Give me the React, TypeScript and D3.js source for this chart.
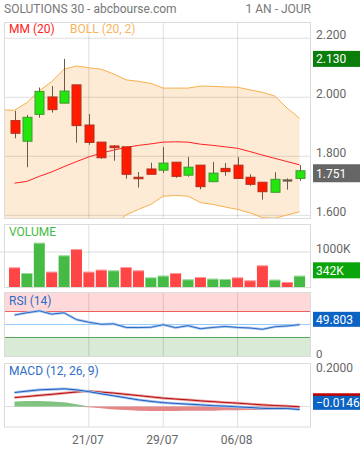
import * as d3 from "d3";

// daily sessions shown (11/07 -> 13/08)
const dates = [
  "11/07", "14/07", "15/07", "16/07", "17/07", "18/07", "21/07", "22/07",
  "23/07", "24/07", "25/07", "28/07", "29/07", "30/07", "31/07", "01/08",
  "04/08", "05/08", "06/08", "07/08", "08/08", "11/08", "12/08", "13/08",
];
const tickDates = ["21/07", "29/07", "06/08"];
const priceTicks = [1.6, 1.8, 2.0, 2.2];

const opens = [1.921, 1.851, 1.942, 2.001, 1.98, 2.042, 1.906, 1.848, 1.835, 1.832, 1.729, 1.757, 1.753, 1.78, 1.736, 1.77, 1.714, 1.759, 1.77, 1.729, 1.712, 1.678, 1.7205, 1.725];
const highs = [1.954, 1.94, 2.033, 2.038, 2.13, 2.042, 1.943, 1.848, 1.838, 1.832, 1.747, 1.778, 1.831, 1.78, 1.798, 1.77, 1.781, 1.777, 1.797, 1.739, 1.712, 1.746, 1.725, 1.77];
const lows = [1.861, 1.763, 1.931, 1.948, 1.98, 1.846, 1.839, 1.792, 1.785, 1.724, 1.694, 1.739, 1.744, 1.727, 1.731, 1.688, 1.714, 1.734, 1.725, 1.7, 1.653, 1.678, 1.687, 1.717];
const closes = [1.878, 1.932, 2.02, 1.958, 2.021, 1.904, 1.847, 1.795, 1.829, 1.739, 1.724, 1.739, 1.777, 1.732, 1.763, 1.697, 1.743, 1.748, 1.725, 1.705, 1.68, 1.722, 1.72, 1.751];
const prevClose = 1.93; // close of 10/07, colours the first volume bar

// volume in thousands
const volumes = [575, 417, 1258, 453, 908, 1083, 453, 509, 491, 583, 491, 296, 343, 417, 241, 306, 259, 250, 296, 213, 630, 231, 167, 342];

const mm20 = [1.709, 1.715, 1.732, 1.747, 1.765, 1.782, 1.798, 1.811, 1.821, 1.83, 1.837, 1.842, 1.848, 1.849, 1.848, 1.841, 1.837, 1.832, 1.827, 1.816, 1.804, 1.793, 1.782, 1.771];
// bollinger bands start one session earlier (10/07)
const bollUpper = [1.957, 1.956, 1.982, 2.022, 2.053, 2.095, 2.106, 2.1, 2.095, 2.079, 2.059, 2.054, 2.047, 2.031, 2.031, 2.031, 2.038, 2.037, 2.035, 2.034, 2.025, 2.017, 2.004, 1.963, 1.929];
const bollLower = [1.46, 1.461, 1.448, 1.441, 1.441, 1.436, 1.459, 1.495, 1.528, 1.564, 1.601, 1.62, 1.637, 1.665, 1.667, 1.665, 1.643, 1.637, 1.628, 1.62, 1.608, 1.592, 1.59, 1.601, 1.612];

const rsi = [64.6, 68, 71, 66, 68, 57.5, 53.5, 50.3, 51, 45.5, 45.3, 45.7, 49.7, 45.1, 48.2, 43.5, 45.5, 47, 45.5, 44.6, 42.6, 46.6, 47.7, 49.803];

const macd = [0.0688, 0.0757, 0.082, 0.0845, 0.087, 0.082, 0.0732, 0.0624, 0.0526, 0.0428, 0.0329, 0.0256, 0.0192, 0.0152, 0.0118, 0.0084, 0.0044, 0.002, -0.0015, -0.0044, -0.0088, -0.0098, -0.0098, -0.0146];
const signal = [0.0442, 0.0491, 0.055, 0.06, 0.0658, 0.0713, 0.0762, 0.0708, 0.0663, 0.06, 0.054, 0.0477, 0.0413, 0.0369, 0.0329, 0.028, 0.0241, 0.0201, 0.0167, 0.0123, 0.0084, 0.0049, 0.0025, -0.001];
const hist = [0.025, 0.027, 0.027, 0.025, 0.021, 0.011, -0.003, -0.008, -0.014, -0.017, -0.021, -0.022, -0.022, -0.022, -0.021, -0.02, -0.02, -0.018, -0.018, -0.017, -0.017, -0.015, -0.012, -0.014];

const FONT = "Roboto, 'Noto Sans', sans-serif";
const L = 4;
const R = 311;
const P = { top: 22, bottom: 219 };
const V = { top: 224, bottom: 288 };
const RS = { top: 292, bottom: 357 };
const M = { top: 363, bottom: 427.5 };
const GRID = "rgba(0,0,0,0.13)";

export default function App() {
  const x = d3.scaleLinear().domain([0, dates.length - 1]).range([14.5, 299.6]);
  const yP = d3.scaleLinear().domain([1.5875, 2.255]).range([P.bottom, P.top]);
  const yV = d3.scaleLinear().domain([0, 1780]).range([V.bottom, V.top]);
  const yR = d3.scaleLinear().domain([0, 100]).range([RS.bottom, RS.top]);
  const yM = d3.scaleLinear().domain([-0.1027, 0.2137]).range([M.bottom, M.top]);

  const tickIdx = tickDates.map((d) => dates.indexOf(d));
  const last = dates.length - 1;

  const band = d3
    .area<number>()
    .x((_, i) => x(i - 1))
    .y0((_, i) => yP(bollLower[i]))
    .y1((d) => yP(d));
  const bandLine = d3.line<number>().x((_, i) => x(i - 1)).y((d) => yP(d));
  const mmLine = d3.line<number>().x((_, i) => x(i)).y((d) => yP(d));
  const rsiLine = d3.line<number>().x((_, i) => x(i)).y((d) => yR(d));
  const macdLine = d3.line<number>().x((_, i) => x(i)).y((d) => yM(d));
  const histPos = d3.area<number>().x((_, i) => x(i)).y0(yM(0)).y1((d) => yM(Math.max(d, 0)));
  const histNeg = d3.area<number>().x((_, i) => x(i)).y0(yM(0)).y1((d) => yM(Math.min(d, 0)));

  const vGrid = (top: number, bottom: number) =>
    tickIdx.map((i) => (
      <line key={`v${top}-${i}`} x1={x(i)} x2={x(i)} y1={top} y2={bottom} stroke={GRID} />
    ));
  const frame = (top: number, bottom: number) => (
    <rect x={L + 0.5} y={top + 0.5} width={R - L - 1} height={bottom - top - 1} fill="none" stroke="#dcdcdc" />
  );

  const valueBox = (y: number, h: number, fill: string, label?: string) => (
    <g>
      <rect x={313} y={y - h / 2} width={47} height={h} fill={fill} />
      {label && <text x={316} y={y + 4.3} fill="#fff" fontSize={12}>{label}</text>}
    </g>
  );

  return (
    <svg
      width={360}
      height={450}
      style={{ position: "absolute", left: 0, top: 0, background: "#fff" }}
      fontFamily={FONT}
    >
      <defs>
        <clipPath id="clipP">
          <rect x={L} y={P.top} width={R - L} height={P.bottom - P.top} />
        </clipPath>
      </defs>

      {/* header */}
      <text x={4} y={12.5} fontSize={12} fill="#777">SOLUTIONS 30 - abcbourse.com</text>
      <text x={311} y={12.5} fontSize={12} fill="#777" textAnchor="end">1 AN - JOUR</text>

      {/* ---- price panel ---- */}
      <g clipPath="url(#clipP)">
        <path d={band(bollUpper) ?? ""} fill="#fdebd6" />
        {priceTicks.map((t) => (
          <line key={t} x1={L} x2={R} y1={yP(t)} y2={yP(t)} stroke={GRID} />
        ))}
        {vGrid(P.top, P.bottom)}
        <path d={bandLine(bollUpper) ?? ""} fill="none" stroke="#f7b04e" />
        <path d={bandLine(bollLower) ?? ""} fill="none" stroke="#f7b04e" />
        <path d={mmLine(mm20) ?? ""} fill="none" stroke="#ff2222" />
        {dates.map((d, i) => {
          const o = opens[i];
          const c = closes[i];
          const up = c > o;
          const doji = Math.abs(c - o) < 0.001;
          const top = yP(Math.max(o, c));
          const bh = Math.max(yP(Math.min(o, c)) - top, 1.5);
          const cx = Math.round(x(i)) + 0.5;
          return (
            <g key={d}>
              <line x1={cx} x2={cx} y1={yP(highs[i])} y2={yP(lows[i])} stroke="#6b5a4a" />
              <rect
                x={cx - 4.5}
                y={top}
                width={9}
                height={bh}
                fill={doji ? "#6b5a4a" : up ? "#22e60e" : "#ff1a00"}
                stroke={doji ? "#6b5a4a" : up ? "#3f9a2c" : "#b3301c"}
                strokeWidth={doji ? 0.5 : 1}
              />
            </g>
          );
        })}
      </g>
      {frame(P.top, P.bottom)}
      <text x={9} y={33.3} fontSize={12} fill="#ff2222">MM (20)</text>
      <text x={70} y={33.3} fontSize={12} fill="#f7b45c">BOLL (20, 2)</text>
      {priceTicks.map((t) => (
        <text key={t} x={316} y={yP(t) + 1} fontSize={12} fill="#666">{d3.format(".3f")(t)}</text>
      ))}
      {valueBox(yP(d3.max(highs) as number), 16, "#0a7d0a", d3.format(".3f")(d3.max(highs) as number))}
      {valueBox(yP(closes[last]) + 2.5, 18, "#666666", d3.format(".3f")(closes[last]))}

      {/* ---- volume panel ---- */}
      <line x1={0} x2={R} y1={yV(1000)} y2={yV(1000)} stroke="#dcdcdc" />
      {vGrid(V.top, V.bottom)}
      {volumes.map((v, i) => {
        const up = closes[i] >= (i === 0 ? prevClose : closes[i - 1]);
        return (
          <g key={dates[i]}>
            <rect
              x={x(i) - 5.5}
              y={yV(v)}
              width={11}
              height={yV(0) - yV(v)}
              fill={up ? "#45bb45" : "#ff4545"}
            />
            <rect x={x(i) - 5.5} y={yV(v)} width={11} height={1} fill="#fff" opacity={0.45} />
          </g>
        );
      })}
      {frame(V.top, V.bottom)}
      <text x={9} y={235.7} fontSize={12} fill="#44bb44">VOLUME</text>
      <text x={316} y={yV(1000) + 1} fontSize={12} fill="#666">1000K</text>
      {valueBox(yV(volumes[last]) - 5.4, 16, "#0aa50a", `${volumes[last]}K`)}

      {/* ---- RSI panel ---- */}
      <rect x={L} y={yR(100)} width={R - L} height={yR(70) - yR(100)} fill="#ffd9d9" />
      <rect x={L} y={yR(30)} width={R - L} height={yR(0) - yR(30)} fill="#d9ead7" />
      {vGrid(RS.top, RS.bottom)}
      <line x1={L} x2={R} y1={yR(70)} y2={yR(70)} stroke="#f06060" />
      <line x1={L} x2={R} y1={yR(30)} y2={yR(30)} stroke="#5aa65a" />
      <line x1={L} x2={R} y1={yR(50)} y2={yR(50)} stroke="#9cccf8" />
      <path d={rsiLine(rsi) ?? ""} fill="none" stroke="#a9c8ee" strokeWidth={2.6} />
      <path d={rsiLine(rsi) ?? ""} fill="none" stroke="#2c6cc8" strokeWidth={1} />
      {frame(RS.top, RS.bottom)}
      <text x={9} y={305} fontSize={12} fill="#2c6cc8">RSI (14)</text>
      <text x={316} y={yR(0) + 1} fontSize={11.5} fill="#666">0</text>
      {valueBox(yR(rsi[last]) - 5.3, 15, "#0b63c4", d3.format(".3f")(rsi[last]))}

      {/* ---- MACD panel ---- */}
      {vGrid(M.top, M.bottom)}
      <line x1={L} x2={R} y1={yM(0)} y2={yM(0)} stroke="#dcdcdc" />
      <path d={histPos(hist) ?? ""} fill="#6cb86c" opacity={0.85} />
      <path d={histNeg(hist) ?? ""} fill="#e07272" opacity={0.85} />
      <path d={macdLine(signal) ?? ""} fill="none" stroke="#eaa0a0" strokeWidth={2.6} />
      <path d={macdLine(signal) ?? ""} fill="none" stroke="#b80c0c" strokeWidth={1} />
      <path d={macdLine(macd) ?? ""} fill="none" stroke="#a3c2ec" strokeWidth={2.6} />
      <path d={macdLine(macd) ?? ""} fill="none" stroke="#1f5fc0" strokeWidth={1} />
      {frame(M.top, M.bottom)}
      <text x={9} y={375} fontSize={12} fill="#2c6cc8">MACD (12, 26, 9)</text>
      <text x={316} y={yM(0.2) + 5.8} fontSize={12} fill="#666">0.2000</text>
      {/* signal value box, almost entirely hidden behind the MACD one */}
      {valueBox(yM(signal[last]) - 6, 15, "#c00000")}
      {valueBox(yM(macd[last]) - 6.7, 14, "#0b63c4", d3.format(".4f")(macd[last]))}

      {/* x axis */}
      {tickIdx.map((i) => (
        <text key={i} x={x(i) - 1} y={444} fontSize={12} fill="#666" textAnchor="middle">
          {dates[i]}
        </text>
      ))}
    </svg>
  );
}
